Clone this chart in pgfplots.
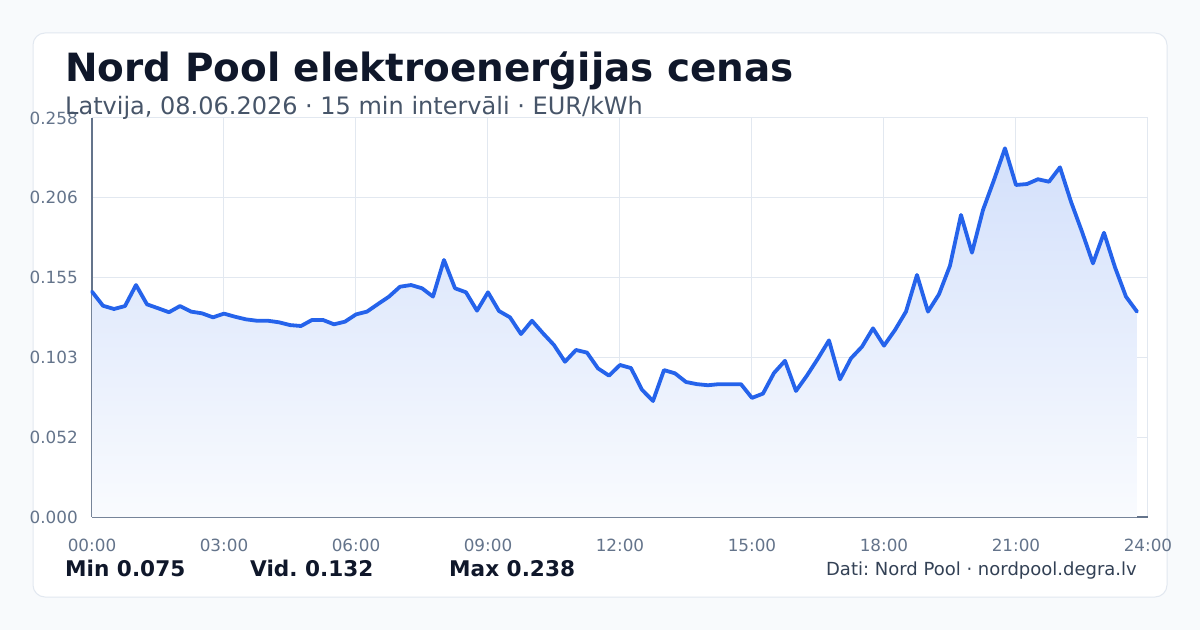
\documentclass[border=0pt]{standalone}
\usepackage{fontspec}
\setmainfont{DejaVu Sans}
\usepackage{pgfplots}
\usepackage{pgfplotstable}
\pgfplotsset{compat=1.18}
\frenchspacing
\definecolor{bgc}{HTML}{F8FAFC}
\definecolor{cardb}{HTML}{E2E8F0}
\definecolor{titlec}{HTML}{0F172A}
\definecolor{subc}{HTML}{475569}
\definecolor{tickc}{HTML}{64748B}
\definecolor{gridc}{HTML}{E2E8F0}
\definecolor{linec}{HTML}{2563EB}
\definecolor{srcc}{HTML}{334155}
\definecolor{filltop}{HTML}{D3E0FB}
\definecolor{fillbot}{HTML}{F9FBFE}
\pgfplotstableread{
h v
0.00 0.1457
0.25 0.1366
0.50 0.1345
0.75 0.1364
1.00 0.1500
1.25 0.1375
1.50 0.1350
1.75 0.1324
2.00 0.1364
2.25 0.1328
2.50 0.1317
2.75 0.1291
3.00 0.1315
3.25 0.1295
3.50 0.1278
3.75 0.1269
4.00 0.1269
4.25 0.1259
4.50 0.1241
4.75 0.1235
5.00 0.1274
5.25 0.1274
5.50 0.1246
5.75 0.1263
6.00 0.1310
6.25 0.1328
6.50 0.1377
6.75 0.1425
7.00 0.1489
7.25 0.1500
7.50 0.1479
7.75 0.1425
8.00 0.1662
8.25 0.1479
8.50 0.1453
8.75 0.1334
9.00 0.1453
9.25 0.1332
9.50 0.1291
9.75 0.1183
10.00 0.1269
10.25 0.1188
10.50 0.1112
10.75 0.1004
11.00 0.1080
11.25 0.1063
11.50 0.0961
11.75 0.0914
12.00 0.0983
12.25 0.0963
12.50 0.0823
12.75 0.0750
13.00 0.0950
13.25 0.0929
13.50 0.0873
13.75 0.0859
14.00 0.0852
14.25 0.0859
14.50 0.0859
14.75 0.0859
15.00 0.0770
15.25 0.0798
15.50 0.0931
15.75 0.1010
16.00 0.0815
16.25 0.0915
16.50 0.1025
16.75 0.1142
17.00 0.0890
17.25 0.1026
17.50 0.1101
17.75 0.1220
18.00 0.1108
18.25 0.1209
18.50 0.1328
18.75 0.1565
19.00 0.1328
19.25 0.1440
19.50 0.1625
19.75 0.1953
20.00 0.1709
20.25 0.1985
20.50 0.2179
20.75 0.2384
21.00 0.2147
21.25 0.2153
21.50 0.2184
21.75 0.2168
22.00 0.2261
22.25 0.2039
22.50 0.1845
22.75 0.1640
23.00 0.1838
23.25 0.1615
23.50 0.1425
23.75 0.1328
}\prices
\begin{document}
\begin{tikzpicture}
\fill[bgc] (0pt,0pt) rectangle (1200pt,630pt);
\draw[cardb, line width=1pt, fill=white, rounded corners=12pt] (33pt,33pt) rectangle (1167pt,597pt);
\begin{axis}[
  at={(92pt,113pt)}, anchor=south west,
  scale only axis, width=1056pt, height=399pt,
  xmin=0, xmax=24, ymin=0, ymax=0.258,
  axis x line=bottom, axis y line=left,
  axis line style={tickc, line width=1.8pt, -},
  xtick={0,3,6,9,12,15,18,21,24},
  xticklabels={00:00,03:00,06:00,09:00,12:00,15:00,18:00,21:00,24:00},
  ytick={0,0.0516,0.1032,0.1548,0.2064,0.258},
  yticklabels={0.000,0.052,0.103,0.155,0.206,0.258},
  major tick length=0pt,
  grid=major,
  grid style={gridc, line width=1pt},
  xticklabel style={font=\fontsize{16.8}{20}\selectfont, text=tickc, anchor=base, inner sep=0pt, yshift=-34pt},
  yticklabel style={font=\fontsize{16.8}{20}\selectfont, text=tickc, anchor=east, inner sep=0pt, xshift=-14pt},
  clip=false,
]
\addplot[draw=none, top color=filltop, bottom color=fillbot] table[x=h, y=v] {\prices} \closedcycle;
\addplot[linec, line width=3.8pt, line join=round, line cap=round, mark=none] table[x=h, y=v] {\prices};
\end{axis}
\node[anchor=base west, inner sep=0pt, text=titlec] at (65pt,548pt) {\fontsize{38.9}{46}\selectfont\bfseries Nord Pool elektroenerģijas cenas};
\node[anchor=base west, inner sep=0pt, text=subc] at (65pt,515pt) {\fontsize{24}{28}\selectfont Latvija, 08.06.2026 · 15 min intervāli · EUR/kWh};
\node[anchor=base west, inner sep=0pt, text=titlec] at (65pt,54pt) {\fontsize{21.6}{26}\selectfont\bfseries Min 0.075};
\node[anchor=base west, inner sep=0pt, text=titlec] at (250pt,54pt) {\fontsize{21.6}{26}\selectfont\bfseries Vid. 0.132};
\node[anchor=base west, inner sep=0pt, text=titlec] at (449pt,54pt) {\fontsize{21.6}{26}\selectfont\bfseries Max 0.238};
\node[anchor=base east, inner sep=0pt, text=srcc] at (1137pt,55pt) {\fontsize{18}{22}\selectfont Dati: Nord Pool · nordpool.degra.lv};
\pgfresetboundingbox
\useasboundingbox (0pt,0pt) rectangle (1200pt,630pt);
\end{tikzpicture}
\end{document}
